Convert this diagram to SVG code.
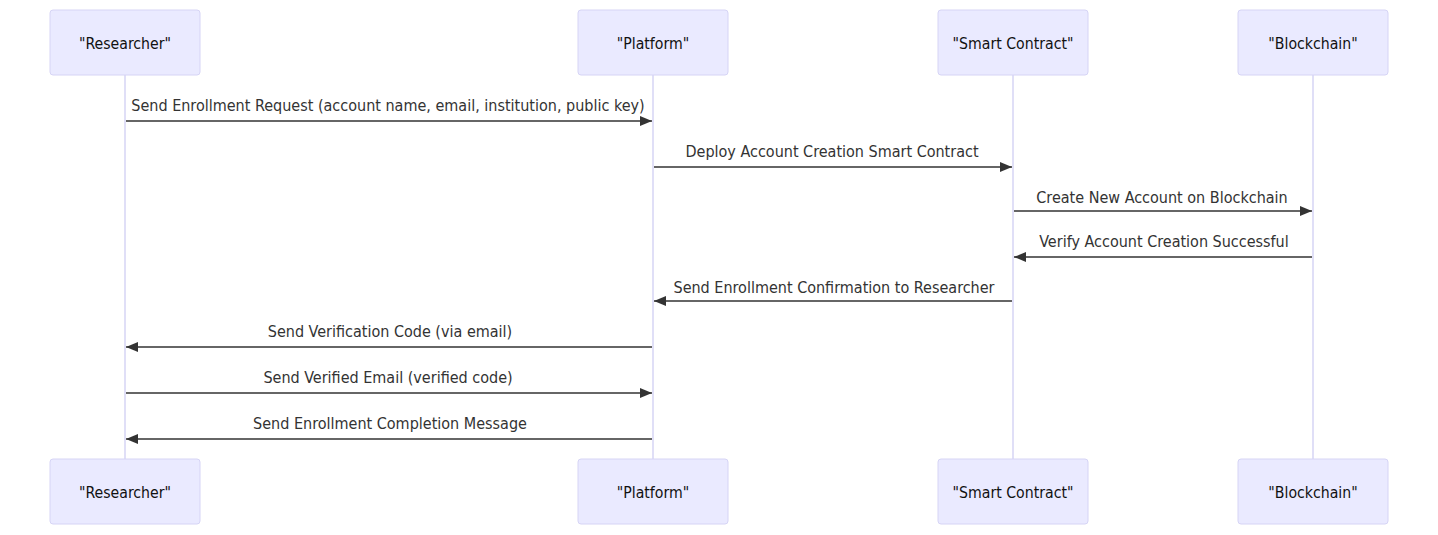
<svg xmlns="http://www.w3.org/2000/svg" width="1438" height="535" viewBox="0 0 1438 535">
<style>
.actor{fill:#eaeaff;stroke:#d6d4f5;stroke-width:1}
.atext{font-family:"DejaVu Sans Condensed","DejaVu Sans",sans-serif;font-stretch:condensed;font-size:15.7px;fill:#111;text-anchor:middle;dominant-baseline:central}
.life{stroke:#d6d4f5;stroke-width:1.5;fill:none}
.msg{stroke:#333;stroke-width:1.5;fill:none}
.mtext{font-family:"DejaVu Sans Condensed","DejaVu Sans",sans-serif;font-stretch:condensed;font-size:16px;fill:#333;text-anchor:middle}
</style>
<defs>
<marker id="ah" viewBox="0 0 12 10" refX="12" refY="5" markerWidth="12" markerHeight="10" markerUnits="userSpaceOnUse" orient="auto"><path d="M0 0 L12 5 L0 10 z" fill="#333"/></marker>
</defs>
<g id="lifelines">
<line class="life" x1="125" y1="75" x2="125" y2="459"/>
<line class="life" x1="653" y1="75" x2="653" y2="459"/>
<line class="life" x1="1013" y1="75" x2="1013" y2="459"/>
<line class="life" x1="1313" y1="75" x2="1313" y2="459"/>
</g>
<g id="researcher-top"><rect class="actor" x="50" y="10" width="150" height="65" rx="3"/><text class="atext" x="125" y="43">"Researcher"</text></g>
<g id="platform-top"><rect class="actor" x="578" y="10" width="150" height="65" rx="3"/><text class="atext" x="653" y="43">"Platform"</text></g>
<g id="contract-top"><rect class="actor" x="938" y="10" width="150" height="65" rx="3"/><text class="atext" x="1013" y="43">"Smart Contract"</text></g>
<g id="blockchain-top"><rect class="actor" x="1238" y="10" width="150" height="65" rx="3"/><text class="atext" x="1313" y="43">"Blockchain"</text></g>
<g id="researcher-bottom"><rect class="actor" x="50" y="459" width="150" height="65" rx="3"/><text class="atext" x="125" y="492">"Researcher"</text></g>
<g id="platform-bottom"><rect class="actor" x="578" y="459" width="150" height="65" rx="3"/><text class="atext" x="653" y="492">"Platform"</text></g>
<g id="contract-bottom"><rect class="actor" x="938" y="459" width="150" height="65" rx="3"/><text class="atext" x="1013" y="492">"Smart Contract"</text></g>
<g id="blockchain-bottom"><rect class="actor" x="1238" y="459" width="150" height="65" rx="3"/><text class="atext" x="1313" y="492">"Blockchain"</text></g>
<g id="connectors">
<line class="msg" x1="126" y1="121" x2="652" y2="121" marker-end="url(#ah)"/>
<text class="mtext" x="388" y="111">Send Enrollment Request (account name, email, institution, public key)</text>
<line class="msg" x1="654" y1="167" x2="1012" y2="167" marker-end="url(#ah)"/>
<text class="mtext" x="832" y="157">Deploy Account Creation Smart Contract</text>
<line class="msg" x1="1014" y1="211" x2="1312" y2="211" marker-end="url(#ah)"/>
<text class="mtext" x="1162" y="203">Create New Account on Blockchain</text>
<line class="msg" x1="1312" y1="257" x2="1014" y2="257" marker-end="url(#ah)"/>
<text class="mtext" x="1164" y="247">Verify Account Creation Successful</text>
<line class="msg" x1="1012" y1="301" x2="654" y2="301" marker-end="url(#ah)"/>
<text class="mtext" x="834" y="293">Send Enrollment Confirmation to Researcher</text>
<line class="msg" x1="652" y1="347" x2="126" y2="347" marker-end="url(#ah)"/>
<text class="mtext" x="390" y="337">Send Verification Code (via email)</text>
<line class="msg" x1="126" y1="393" x2="652" y2="393" marker-end="url(#ah)"/>
<text class="mtext" x="388" y="383">Send Verified Email (verified code)</text>
<line class="msg" x1="652" y1="439" x2="126" y2="439" marker-end="url(#ah)"/>
<text class="mtext" x="390" y="429">Send Enrollment Completion Message</text>
</g>
</svg>
